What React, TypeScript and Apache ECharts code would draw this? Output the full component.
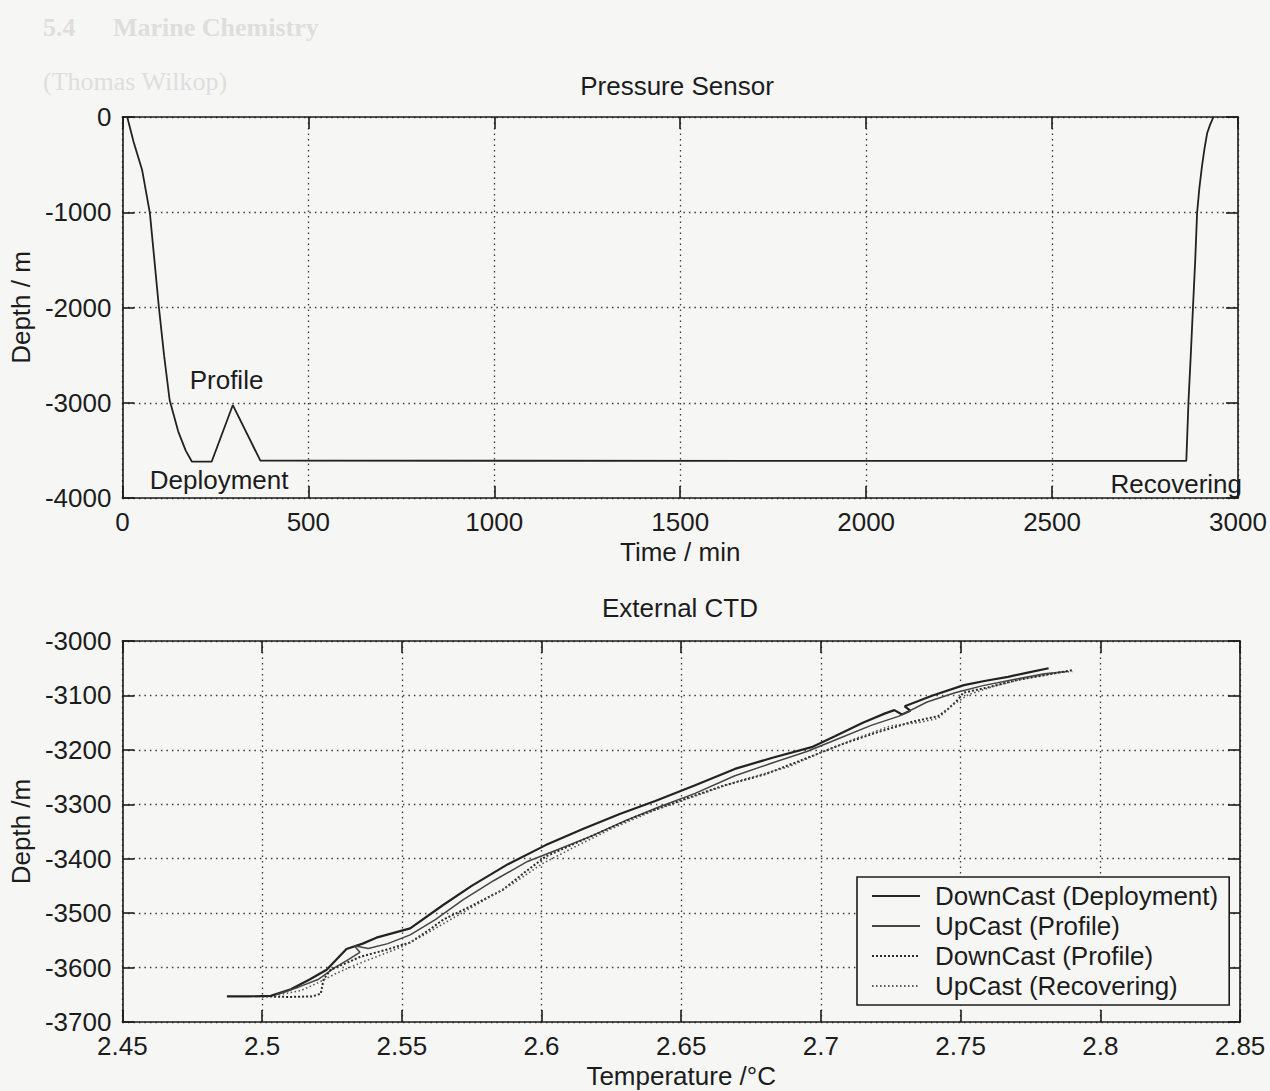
import React, { useEffect, useRef } from 'react';
import * as echarts from 'echarts';

// ---------- Pressure sensor (time vs depth) ----------
const pressureTime = [13, 30, 53, 74, 86, 98, 112, 127, 150, 170, 187, 240, 297, 371, 2861, 2867, 2873, 2879, 2885, 2890, 2896, 2903, 2910, 2917, 2925, 2934];
const pressureDepth = [0, -260, -556, -1011, -1500, -1992, -2500, -2971, -3300, -3500, -3619, -3619, -3024, -3608, -3611, -2971, -2500, -1992, -1500, -1008, -750, -522, -330, -171, -80, 0];

const annotLabels = ['Profile', 'Deployment', 'Recovering'];
const annotTime = [280, 260, 2834];
const annotDepth = [-2761, -3811, -3853];

const timeTicks = { min: 0, max: 3000, interval: 500 };
const depthTicks = { min: -4000, max: 0, interval: 1000 };

// ---------- External CTD (temperature vs depth) ----------
const ctdNames = ['DownCast (Deployment)', 'UpCast (Profile)', 'DownCast (Profile)', 'UpCast (Recovering)'];

const downDeployT = [2.4874, 2.4950, 2.5031, 2.5103, 2.5170, 2.5231, 2.5302, 2.5360, 2.5409, 2.5530, 2.5648, 2.5750, 2.5880, 2.6015, 2.6150, 2.6280, 2.6407, 2.6550, 2.6692, 2.6830, 2.6967, 2.7050, 2.7150, 2.7230, 2.7263, 2.7290, 2.7320, 2.7300, 2.7400, 2.7512, 2.7590, 2.7670, 2.7740, 2.7815];
const downDeployD = [-3653, -3653, -3652, -3640, -3622, -3604, -3566, -3556, -3545, -3528, -3485, -3450, -3410, -3375, -3345, -3318, -3294, -3265, -3235, -3214, -3195, -3175, -3150, -3133, -3127, -3135, -3128, -3120, -3100, -3081, -3073, -3066, -3058, -3050];

const upProfileT = [2.5050, 2.5130, 2.5200, 2.5260, 2.5310, 2.5350, 2.5330, 2.5380, 2.5450, 2.5530, 2.5620, 2.5720, 2.5830, 2.5950, 2.6050, 2.6180, 2.6300, 2.6420, 2.6550, 2.6690, 2.6820, 2.6950, 2.7060, 2.7180, 2.7280, 2.7380, 2.7480, 2.7580, 2.7700, 2.7800, 2.7880];
const upProfileD = [-3650, -3636, -3622, -3600, -3585, -3572, -3560, -3565, -3556, -3540, -3512, -3475, -3440, -3405, -3385, -3358, -3330, -3305, -3280, -3248, -3225, -3203, -3180, -3155, -3138, -3112, -3095, -3082, -3070, -3060, -3056];

const downProfileT = [2.5000, 2.5100, 2.5180, 2.5210, 2.5220, 2.5245, 2.5300, 2.5352, 2.5440, 2.5530, 2.5600, 2.5648, 2.5744, 2.5862, 2.5940, 2.6015, 2.6150, 2.6336, 2.6514, 2.6650, 2.6800, 2.6950, 2.7074, 2.7200, 2.7330, 2.7420, 2.7455, 2.7490, 2.7510, 2.7600, 2.7700, 2.7830, 2.7905];
const downProfileD = [-3653, -3654, -3653, -3648, -3622, -3604, -3592, -3580, -3568, -3554, -3530, -3512, -3488, -3457, -3425, -3396, -3365, -3323, -3290, -3266, -3245, -3215, -3190, -3168, -3148, -3138, -3125, -3108, -3095, -3085, -3072, -3060, -3053];

const upRecovT = [2.5060, 2.5140, 2.5200, 2.5260, 2.5330, 2.5420, 2.5500, 2.5580, 2.5680, 2.5790, 2.5900, 2.6000, 2.6120, 2.6250, 2.6400, 2.6550, 2.6700, 2.6885, 2.7000, 2.7120, 2.7250, 2.7359, 2.7420, 2.7470, 2.7530, 2.7620, 2.7720, 2.7850, 2.7900];
const upRecovD = [-3650, -3642, -3628, -3612, -3596, -3578, -3562, -3540, -3510, -3478, -3445, -3410, -3378, -3345, -3312, -3285, -3258, -3231, -3205, -3180, -3156, -3149, -3142, -3118, -3098, -3083, -3070, -3058, -3056];

const tempTicks = { min: 2.45, max: 2.85, interval: 0.05 };
const ctdDepthTicks = { min: -3700, max: -3000, interval: 100 };

const FONT = '"Liberation Sans", Arial, Helvetica, sans-serif';
const SERIF = '"Liberation Serif", "DejaVu Serif", serif';
const FS = 26;

const zip = (a: number[], b: number[]) => a.map((v, i) => [v, b[i]]);
const plain = (v: number) => String(Math.round(v * 1000) / 1000);

export default function App() {
  const ref = useRef<HTMLDivElement>(null);

  useEffect(() => {
    const chart = echarts.init(ref.current as HTMLDivElement, null, { renderer: 'svg' });
    const ink = '#1c1c1c';
    const axisLine = { show: true, onZero: false, lineStyle: { color: ink, width: 1.6 } };
    const tick = { show: true, inside: true, length: 12, lineStyle: { color: ink, width: 1.6 } };
    const split = { show: true, lineStyle: { color: '#3a3a3a', width: 1.3, type: [1.5, 4] as any } };
    const label = { show: true, fontSize: FS, color: ink, fontFamily: FONT, margin: 11, formatter: plain };
    const nameStyle = { fontSize: FS, color: ink, fontFamily: FONT };

    const ctdStyles = [
      { color: '#222', width: 2.2, type: 'solid' },
      { color: '#444', width: 1.5, type: 'solid' },
      { color: '#2a2a2a', width: 2, type: [2, 2] },
      { color: '#555', width: 1.6, type: [1.5, 2.5] },
    ];
    const ctdData = [
      zip(downDeployT, downDeployD),
      zip(upProfileT, upProfileD),
      zip(downProfileT, downProfileD),
      zip(upRecovT, upRecovD),
    ];

    chart.setOption({
      animation: false,
      backgroundColor: '#f6f6f5',
      textStyle: { fontFamily: FONT },
      grid: [
        { left: 115, top: 117, width: 1123, height: 381 },
        { left: 117, top: 641, width: 1123, height: 381 },
      ],
      xAxis: [
        {
          type: 'value', gridIndex: 0, position: 'bottom', ...timeTicks,
          axisLine, axisTick: tick, axisLabel: label, splitLine: split,
          name: 'Time / min', nameLocation: 'middle', nameGap: 41, nameTextStyle: nameStyle,
        },
        {
          type: 'value', gridIndex: 0, position: 'top', ...timeTicks,
          axisLine, axisTick: tick, axisLabel: { show: false }, splitLine: { show: false },
        },
        {
          type: 'value', gridIndex: 1, position: 'bottom', ...tempTicks,
          axisLine, axisTick: tick, axisLabel: label, splitLine: split,
          name: 'Temperature /°C', nameLocation: 'middle', nameGap: 41, nameTextStyle: nameStyle,
        },
        {
          type: 'value', gridIndex: 1, position: 'top', ...tempTicks,
          axisLine, axisTick: tick, axisLabel: { show: false }, splitLine: { show: false },
        },
      ],
      yAxis: [
        {
          type: 'value', gridIndex: 0, position: 'left', ...depthTicks,
          axisLine, axisTick: tick, axisLabel: label, splitLine: split,
          name: 'Depth / m', nameLocation: 'middle', nameGap: 80, nameTextStyle: nameStyle,
        },
        {
          type: 'value', gridIndex: 0, position: 'right', ...depthTicks,
          axisLine, axisTick: tick, axisLabel: { show: false }, splitLine: { show: false },
        },
        {
          type: 'value', gridIndex: 1, position: 'left', ...ctdDepthTicks,
          axisLine, axisTick: tick, axisLabel: label, splitLine: split,
          name: 'Depth /m', nameLocation: 'middle', nameGap: 82, nameTextStyle: nameStyle,
        },
        {
          type: 'value', gridIndex: 1, position: 'right', ...ctdDepthTicks,
          axisLine, axisTick: tick, axisLabel: { show: false }, splitLine: { show: false },
        },
      ],
      legend: {
        data: ctdNames,
        orient: 'vertical',
        left: 857,
        top: 877,
        padding: [6, 11, 6, 14],
        itemWidth: 48,
        itemHeight: 14,
        itemGap: 4,
        borderColor: ink,
        borderWidth: 1.6,
        backgroundColor: '#f6f6f5',
        itemStyle: { opacity: 0 },
        textStyle: { fontSize: FS, color: ink, fontFamily: FONT, lineHeight: 26, padding: [0, 0, 0, 10] },
      },
      graphic: [
        { type: 'text', left: 43, top: 14, style: { text: '5.4', font: `bold 26px ${SERIF}`, fill: '#dedede' } },
        { type: 'text', left: 113, top: 14, style: { text: 'Marine Chemistry', font: `bold 26px ${SERIF}`, fill: '#dedede' } },
        { type: 'text', left: 43, top: 68, style: { text: '(Thomas Wilkop)', font: `26px ${SERIF}`, fill: '#dedede' } },
        { type: 'text', x: 677, y: 86, style: { text: 'Pressure Sensor', font: `${FS}px ${FONT}`, fill: ink, textAlign: 'center', textVerticalAlign: 'middle' } },
        { type: 'text', x: 680, y: 608, style: { text: 'External CTD', font: `${FS}px ${FONT}`, fill: ink, textAlign: 'center', textVerticalAlign: 'middle' } },
      ],
      series: [
        {
          type: 'line', name: 'Pressure', xAxisIndex: 0, yAxisIndex: 0,
          data: zip(pressureTime, pressureDepth), symbol: 'none', smooth: false,
          lineStyle: { color: '#222', width: 1.8 },
          markPoint: {
            symbol: 'circle', symbolSize: 1,
            itemStyle: { color: 'rgba(0,0,0,0)' },
            label: { show: true, position: 'inside', fontSize: FS, color: ink, fontFamily: FONT, formatter: (p: any) => p.name },
            data: annotLabels.map((n, i) => ({ name: n, coord: [annotTime[i], annotDepth[i]] })),
          },
        },
        ...ctdNames.map((n, i) => ({
          type: 'line', name: n, xAxisIndex: 2, yAxisIndex: 2,
          data: ctdData[i], symbol: 'none',
          lineStyle: ctdStyles[i],
          itemStyle: { color: ctdStyles[i].color },
        })),
      ],
    });
    return () => chart.dispose();
  }, []);

  return <div ref={ref} style={{ position: 'absolute', left: 0, top: 0, width: 1270, height: 1091 }} />;
}
